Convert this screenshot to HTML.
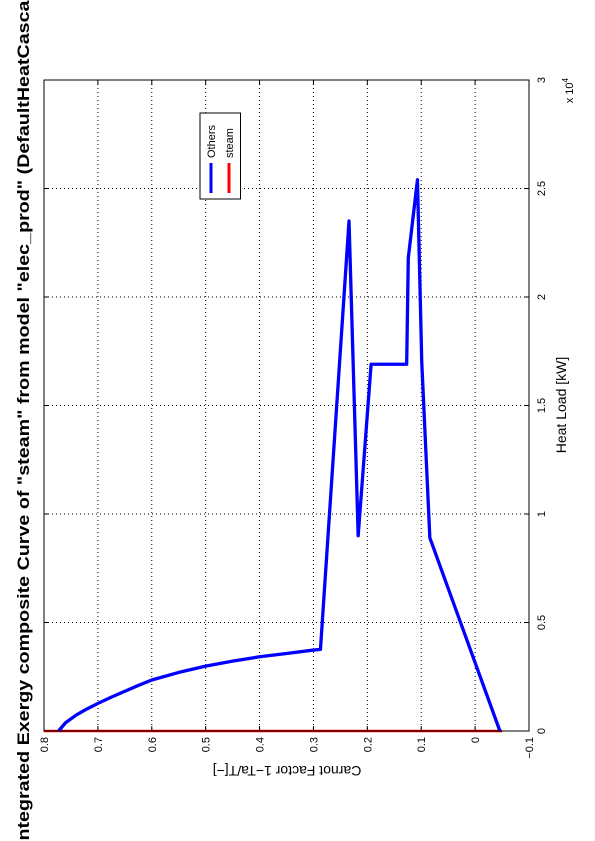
<!DOCTYPE html>
<html><head><meta charset="utf-8"><style>
html,body{margin:0;padding:0;background:#fff}
svg{display:block;font-family:"Liberation Sans",sans-serif}
</style></head><body>
<svg id="chart" width="595" height="841" viewBox="0 0 595 841">
<rect width="595" height="841" fill="#fff"/>
<g id="grid"></g>
<g id="series"></g>
<rect x="44" y="80" width="485" height="651" fill="none" stroke="#000" stroke-width="1"/>
<g id="ticks"></g>
<text x="29" y="846" font-size="17" font-weight="bold" transform="rotate(-90 29 846)" textLength="875" lengthAdjust="spacingAndGlyphs">Integrated Exergy composite Curve of "steam" from model "elec_prod" (DefaultHeatCascade)</text>
<text x="287" y="766" font-size="14" text-anchor="middle" transform="rotate(180 287 766)">Carnot Factor 1−Ta/T[−]</text>
<text x="566" y="405" font-size="14" text-anchor="middle" transform="rotate(-90 566 405)">Heat Load [kW]</text>
<text x="573" y="78" font-size="11" text-anchor="end" transform="rotate(-90 573 78)">x 10<tspan dy="-5" font-size="8">4</tspan></text>
<g>
<rect x="200" y="113" width="40.5" height="86" fill="#fff" stroke="#000" stroke-width="1"/>
<text x="215" y="158" font-size="11" transform="rotate(-90 215 158)">Others</text>
<line x1="211" y1="163" x2="211" y2="193" stroke="#0000ff" stroke-width="3"/>
<text x="233" y="158" font-size="11" transform="rotate(-90 233 158)">steam</text>
<line x1="229" y1="163" x2="229" y2="193" stroke="#ff0000" stroke-width="3"/>
</g>
</svg>
<script>
const carnotTicks = [0.8, 0.7, 0.6, 0.5, 0.4, 0.3, 0.2, 0.1, 0, -0.1];
const carnotTickLabels = ["0.8","0.7","0.6","0.5","0.4","0.3","0.2","0.1","0","−0.1"];
const heatTicks = [0, 5000, 10000, 15000, 20000, 25000, 30000];
const heatTickLabels = ["0","0.5","1","1.5","2","2.5","3"];
const othersCarnot = [-0.046, 0.084, 0.099, 0.107, 0.124, 0.127, 0.193, 0.217, 0.234, 0.287, 0.30, 0.35, 0.40, 0.45, 0.50, 0.55, 0.60, 0.625, 0.65, 0.675, 0.70, 0.72, 0.74, 0.76, 0.773];
const othersHeat =   [0, 8900, 17000, 25400, 21800, 16900, 16900, 9000, 23500, 3760, 3730, 3570, 3420, 3220, 2990, 2700, 2350, 2100, 1830, 1560, 1270, 1020, 740, 380, 0];
const steamCarnot = [0.8, -0.05];
const steamHeat = [0, 0];

const NS = "http://www.w3.org/2000/svg";
const L = 44, R = 529, T = 80, B = 731;
function xs(c){ return L + (0.8 - c) / 0.9 * (R - L); }
function ys(q){ return B - q / 30000 * (B - T); }
function mk(tag, attrs, parent){
  const e = document.createElementNS(NS, tag);
  for (const k in attrs) e.setAttribute(k, attrs[k]);
  parent.appendChild(e); return e;
}
const grid = document.getElementById('grid');
const ticks = document.getElementById('ticks');
const series = document.getElementById('series');

carnotTicks.forEach((c, i) => {
  const x = xs(c);
  if (i > 0 && i < carnotTicks.length - 1) {
    const g = mk('line', {x1:x, y1:T, x2:x, y2:B, stroke:'#000', 'stroke-width':1, 'stroke-dasharray':'1,3'}, grid);
    
    
  }
  const t1 = mk('line', {x1:x, y1:B, x2:x, y2:B-5, stroke:'#000'}, ticks);
  
  
  const t2 = mk('line', {x1:x, y1:T, x2:x, y2:T+5, stroke:'#000'}, ticks);
  
  
  const lbl = mk('text', {x:x+4, y:737, 'font-size':11, 'text-anchor':'end', transform:'rotate(-90 '+(x+4)+' 737)'}, ticks);
  lbl.textContent = carnotTickLabels[i];
  
  
});
heatTicks.forEach((q, i) => {
  const y = ys(q);
  if (i > 0 && i < heatTicks.length - 1) {
    const g = mk('line', {x1:L, y1:y, x2:R, y2:y, stroke:'#000', 'stroke-width':1, 'stroke-dasharray':'1,3'}, grid);
    
    
  }
  const t1 = mk('line', {x1:R, y1:y, x2:R-5, y2:y, stroke:'#000'}, ticks);
  
  
  const t2 = mk('line', {x1:L, y1:y, x2:L+5, y2:y, stroke:'#000'}, ticks);
  
  
  const lbl = mk('text', {x:545, y:y, 'font-size':11, 'text-anchor':'middle', transform:'rotate(-90 545 '+y+')'}, ticks);
  lbl.textContent = heatTickLabels[i];
  
  
});

const steam = mk('polyline', {points: steamCarnot.map((c,i)=>xs(c)+','+ys(steamHeat[i])).join(' '), fill:'none', stroke:'#ff0000', 'stroke-width':2.5}, series);


const others = mk('polyline', {points: othersCarnot.map((c,i)=>xs(c)+','+ys(othersHeat[i])).join(' '), fill:'none', stroke:'#0000ff', 'stroke-width':3.3, 'stroke-linejoin':'round'}, series);


</script>
</body></html>
